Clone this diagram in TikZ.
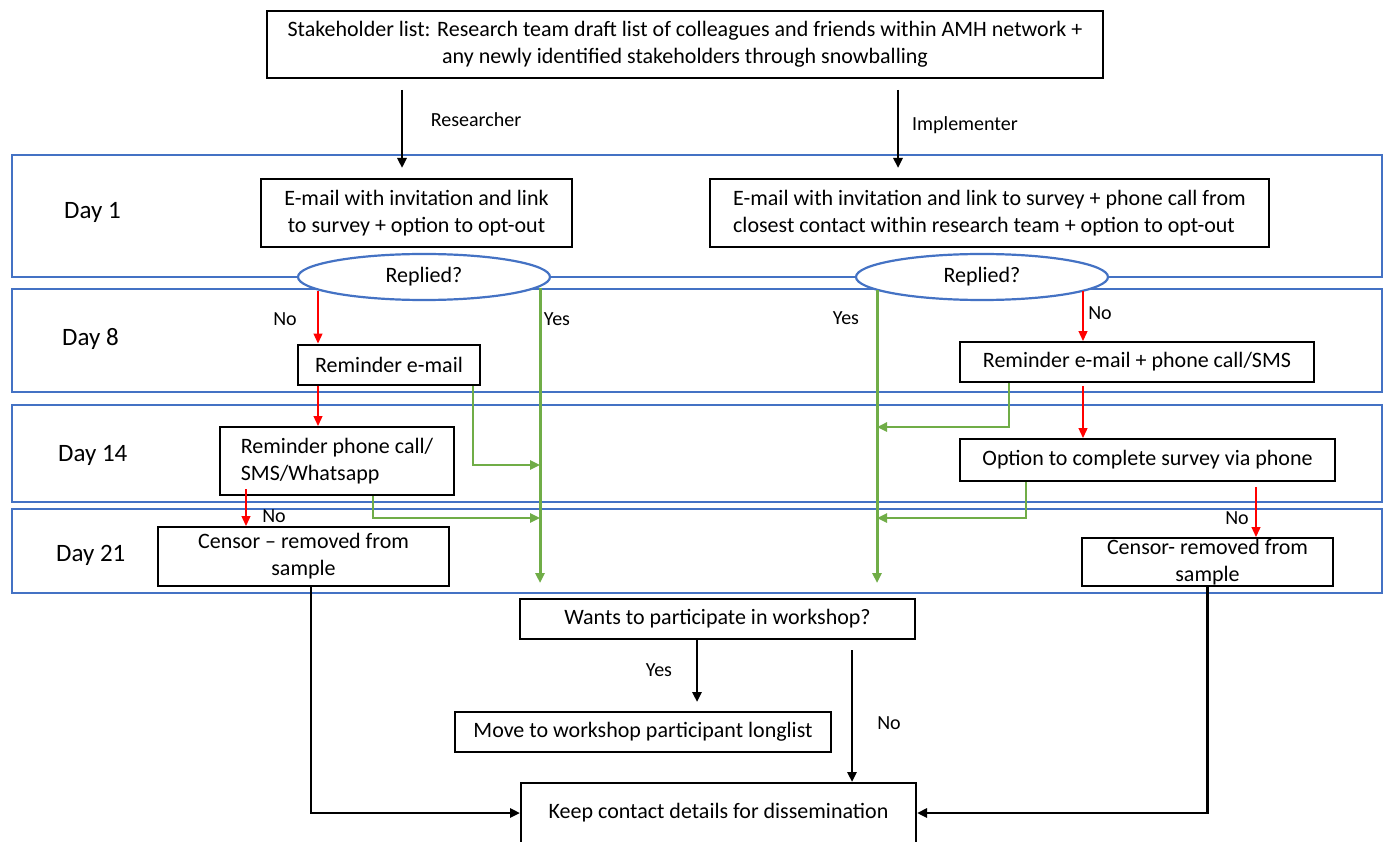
\documentclass[tikz,border=0pt]{standalone}
\usepackage{fontspec}
\setmainfont{Carlito}
\usetikzlibrary{arrows.meta,shapes.geometric}
\definecolor{laneblue}{HTML}{4472C4}
\definecolor{yesgreen}{HTML}{70AD47}
\definecolor{nored}{HTML}{FF0000}
\begin{document}
\begin{tikzpicture}[x=1pt,y=-1pt,
  font=\fontsize{22}{27}\selectfont,
  box/.style={draw=black,line width=2pt,fill=white,inner sep=0pt,align=center},
  lbox/.style={box,align=left},
  lane/.style={draw=laneblue,line width=2.2pt},
  daylbl/.style={anchor=west,inner sep=0pt,font=\fontsize{25}{30}\selectfont},
  lbl/.style={inner sep=0pt,font=\fontsize{20}{24}\selectfont},
  ell/.style={ellipse,draw=laneblue,line width=2.2pt,fill=white,inner sep=0pt,minimum width=252,minimum height=46},
  redarr/.style={draw=nored,line width=1.3pt,-{Triangle[length=10pt,width=9pt]}},
  grnmain/.style={draw=yesgreen,line width=3pt,-{Triangle[length=10pt,width=9pt]}},
  grnarr/.style={draw=yesgreen,line width=2.4pt,-{Triangle[length=10pt,width=9pt]}},
  blkarr/.style={draw=black,line width=2.5pt,-{Triangle[length=10pt,width=9pt]}}]
\useasboundingbox (0,0) rectangle (1389,842);
\clip (0,0) rectangle (1389,842);
\fill[white] (0,0) rectangle (1389,842);

% lanes
\draw[lane] (12,155) rectangle (1382,277);
\draw[lane] (12,289) rectangle (1382,392);
\draw[lane] (12,405) rectangle (1382,502);
\draw[lane] (12,509) rectangle (1382,593);

\node[daylbl] (d1) at (64,212) {Day 1};
\node[daylbl] (d8) at (62,339) {Day 8};
\node[daylbl] (d14) at (58,455) {Day 14};
\node[daylbl] (d21) at (56,555) {Day 21};

% boxes
\node[box,minimum width=836,minimum height=67] (top) at (685,44.5)
  {Stakeholder list: Research team draft list of colleagues and friends within AMH network +\\
   any newly identified stakeholders through snowballing};
\node[box,minimum width=311,minimum height=68] (d1l) at (416.5,213)
  {E-mail with invitation and link\\ to survey + option to opt-out};
\node[lbox,minimum width=559,minimum height=68] (d1r) at (989.5,213)
  {E-mail with invitation and link to survey + phone call from\\
   closest contact within research team + option to opt-out};
\node[ell] (eL) at (424,277) {Replied?};
\node[ell] (eR) at (982,277) {Replied?};
\node[box,minimum width=182,minimum height=40] (rem1) at (389,364.5) {Reminder e-mail};
\node[lbox,minimum width=234,minimum height=68] (rem2) at (337,461)
  {Reminder phone call/\\ SMS/Whatsapp};
\node[box,minimum width=291,minimum height=59] (cenL) at (303.5,556.5)
  {Censor -- removed from\\ sample};
\node[box,minimum width=354,minimum height=40] (remR) at (1137,362)
  {Reminder e-mail + phone call/SMS};
\node[box,minimum width=375,minimum height=42] (optR) at (1147.5,460)
  {Option to complete survey via phone};
\node[box,minimum width=251,minimum height=48] (cenR) at (1207.5,562)
  {Censor- removed from\\ sample};
\node[box,minimum width=395,minimum height=40] (wants) at (717.5,619)
  {Wants to participate in workshop?};
\node[box,minimum width=376,minimum height=40] (move) at (643,732)
  {Move to workshop participant longlist};
\node[box,minimum width=395,minimum height=60] (keep) at (718.5,813)
  {Keep contact details for dissemination};

% top arrows
\coordinate (rsA) at (402,90);
\coordinate (rsB) at (402,168);
\coordinate (imA) at (898,90);
\coordinate (imB) at (898,168);
\draw[blkarr] (rsA) -- (rsB);
\draw[blkarr] (imA) -- (imB);
\node[lbl] (lres) at (476,120) {Researcher};
\node[lbl] (limp) at (965,125) {Implementer};

% left red path
\coordinate (rL1) at (318,291);
\draw[redarr] (rL1) -- (rL1 |- rem1.north);
\draw[redarr] (rem1.south -| rL1) -- (rL1 |- rem2.north);
\coordinate (rL3) at (246,489);
\draw[redarr] (rL3) -- (rL3 |- cenL.north);
\node[lbl] (nL1) at (285,319) {No};
\node[lbl] (nL2) at (274,516) {No};

% left green path
\coordinate (gLa) at (540,288);
\coordinate (gLb) at (540,583);
\draw[grnmain] (gLa) -- (gLb);
\node[lbl] (yL) at (557,319) {Yes};
\coordinate (gb1) at (473,465);
\draw[grnarr] (rem1.south -| gb1) |- (gLa |- gb1);
\coordinate (gb2) at (373,518);
\draw[grnarr] (rem2.south -| gb2) |- (gLa |- gb2);

% right green path
\coordinate (gRa) at (877,290);
\coordinate (gRb) at (877,583);
\draw[grnmain] (gRa) -- (gRb);
\node[lbl] (yR) at (846,318) {Yes};
\coordinate (gb3) at (1009,427);
\draw[grnarr] (remR.south -| gb3) |- (gRa |- gb3);
\coordinate (gb4) at (1026,518);
\draw[grnarr] (optR.south -| gb4) |- (gRa |- gb4);

% right red path
\coordinate (rR1) at (1083,291);
\draw[redarr] (rR1) -- (rR1 |- remR.north);
\coordinate (rR2) at (1083,386);
\draw[redarr] (rR2) -- (rR2 |- optR.north);
\coordinate (rR3) at (1256,487);
\draw[redarr] (rR3) -- (rR3 |- cenR.north);
\node[lbl] (nR1) at (1100,313) {No};
\node[lbl] (nR2) at (1237,518) {No};

% bottom
\coordinate (wy) at (697,702);
\draw[blkarr] (wants.south -| wy) -- (wy);
\node[lbl] (yB) at (659,670) {Yes};
\coordinate (wn) at (852,650);
\draw[blkarr] (wn) -- (wn |- keep.north);
\node[lbl] (nB) at (889,723) {No};
\coordinate (cl) at (311,0);
\draw[blkarr] (cenL.south -| cl) |- (keep.west);
\draw[blkarr] (cenR.south) |- (keep.east);
\end{tikzpicture}
\end{document}
